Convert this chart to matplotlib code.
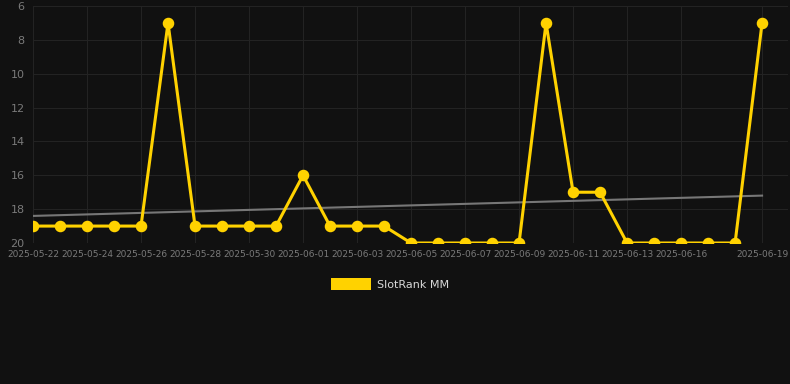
#!/usr/bin/env python3
"""SlotRank MM rank history, dark theme."""

import matplotlib
matplotlib.use('Agg')
import matplotlib.pyplot as plt
import matplotlib.patches as mpatches

dates = ['2025-05-22', '2025-05-23', '2025-05-24', '2025-05-25', '2025-05-26',
         '2025-05-27', '2025-05-28', '2025-05-29', '2025-05-30', '2025-05-31',
         '2025-06-01', '2025-06-02', '2025-06-03', '2025-06-04', '2025-06-05',
         '2025-06-06', '2025-06-07', '2025-06-08', '2025-06-09', '2025-06-10',
         '2025-06-11', '2025-06-12', '2025-06-13', '2025-06-15', '2025-06-16',
         '2025-06-17', '2025-06-18', '2025-06-19']
ranks = [19, 19, 19, 19, 19, 7, 19, 19, 19, 19, 16, 19, 19, 19, 20,
         20, 20, 20, 20, 7, 17, 17, 20, 20, 20, 20, 20, 7]
trend = [18.4, 17.2]   # start / end of the trend line
shown_labels = ['2025-05-22', '2025-05-24', '2025-05-26', '2025-05-28', '2025-05-30',
                '2025-06-01', '2025-06-03', '2025-06-05', '2025-06-07', '2025-06-09',
                '2025-06-11', '2025-06-13', '2025-06-16', '2025-06-19']
y_ticks = [6, 8, 10, 12, 14, 16, 18, 20]

BG = '#111111'
GOLD = '#FFD200'

fig = plt.figure(figsize=(7.9, 3.84), dpi=100, facecolor=BG)
ax = fig.add_axes([33 / 790, 1 - 243 / 384, 755 / 790, 237 / 384])
ax.set_facecolor(BG)

x = list(range(len(dates)))
ax.plot(x, ranks, color=GOLD, linewidth=2.2, marker='o', markersize=7.3,
        solid_joinstyle='miter', zorder=3)
ax.plot([x[0], x[-1]], trend, color='#777777', linewidth=1.5, zorder=2)

ax.set_xlim(0, 27.96)
ax.set_ylim(20, 6)
ax.set_yticks(y_ticks)
ax.set_yticklabels([str(v) for v in y_ticks], color='#7a7a7a', fontsize=8)

tick_pos = [dates.index(d) for d in shown_labels]
ax.set_xticks(tick_pos)
ax.set_xticklabels(shown_labels, color='#7a7a7a', fontsize=6.5)

ax.tick_params(length=0, pad=6)
ax.tick_params(axis='x', pad=5)
ax.grid(True, color='#232323', linewidth=0.8)
for s in ax.spines.values():
    s.set_visible(False)

# legend
fig.patches.append(mpatches.Rectangle((331 / 790, 1 - 290 / 384), 40 / 790, 12 / 384,
                                      transform=fig.transFigure, facecolor=GOLD,
                                      edgecolor='none'))
fig.text(377 / 790, 1 - 284.5 / 384, 'SlotRank MM', color='#d8d8d8', fontsize=8,
         va='center', ha='left')

plt.savefig('out.png', dpi=100, facecolor=BG)
plt.close()
print("Created out.png")
